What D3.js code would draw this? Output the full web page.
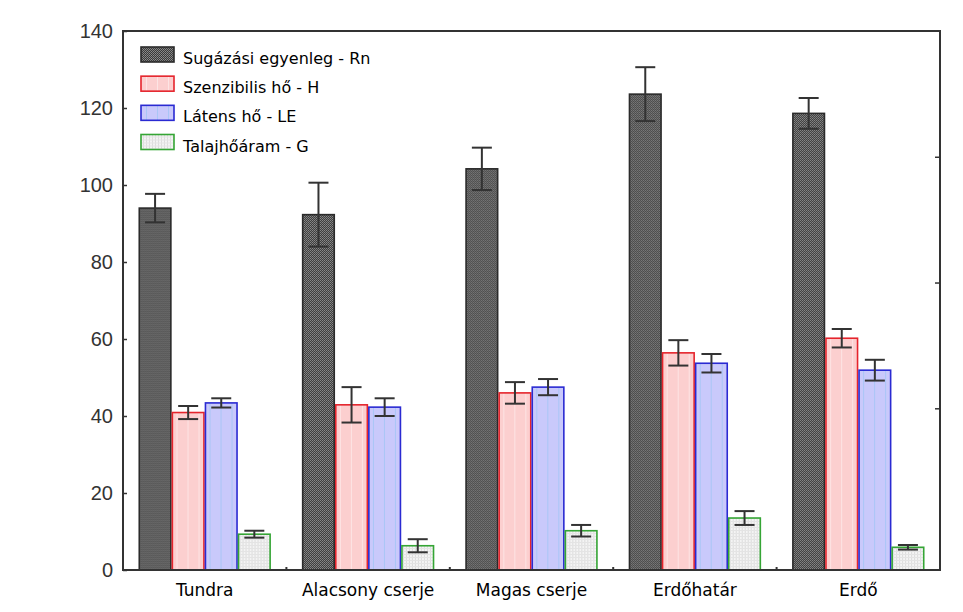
<!DOCTYPE html>
<html>
<head>
<meta charset="utf-8">
<script src="https://cdn.jsdelivr.net/npm/d3@7"></script>
<style>
  html, body { margin: 0; padding: 0; background: #fff; }
  svg { display: block; }
</style>
</head>
<body>
<svg id="chart" width="963" height="612"></svg>
<script>
// ---- data ----
const categories = ["Tundra", "Alacsony cserje", "Magas cserje", "Erdőhatár", "Erdő"];
const seriesNames = ["Sugázási egyenleg - Rn", "Szenzibilis hő - H", "Látens hő - LE", "Talajhőáram - G"];
const seriesKeys = ["Rn", "H", "LE", "G"];
const valuesRn = [94.0, 92.3, 104.2, 123.6, 118.6];
const valuesH  = [40.9, 42.9, 46.0, 56.4, 60.2];
const valuesLE = [43.4, 42.3, 47.5, 53.7, 51.9];
const valuesG  = [9.3, 6.3, 10.2, 13.5, 5.9];
const errRn = [3.7, 8.3, 5.5, 7.0, 4.0];
const errH  = [1.7, 4.6, 2.8, 3.3, 2.4];
const errLE = [1.2, 2.3, 2.1, 2.4, 2.7];
const errG  = [0.9, 1.7, 1.5, 1.8, 0.6];
const yTicks = [0, 20, 40, 60, 80, 100, 120, 140];
const rightTicks = [1, 2, 3];

const values = { Rn: valuesRn, H: valuesH, LE: valuesLE, G: valuesG };
const errors = { Rn: errRn, H: errH, LE: errLE, G: errG };

// ---- layout ----
const svg = d3.select("#chart");
const mLeft = 123, mRight = 940, mTop = 31, mBottom = 570;

const x = d3.scaleBand().domain(categories).range([mLeft, mRight])
  .paddingInner(0.19).paddingOuter(0.095);
const xs = d3.scaleBand().domain(seriesKeys).range([0, x.bandwidth()]);
const y = d3.scaleLinear().domain([0, 140]).range([mBottom, mTop]);
const yRight = d3.scaleLinear().domain([-2 / 7, 4]).range([mBottom, mTop]);

// ---- patterns ----
const defs = svg.append("defs");
const pRn = defs.append("pattern").attr("id", "pRn").attr("patternUnits", "userSpaceOnUse")
  .attr("width", 2).attr("height", 2);
pRn.append("rect").attr("width", 2).attr("height", 2).attr("fill", "#3a3a3a");
pRn.append("rect").attr("x", 0).attr("y", 0).attr("width", 1).attr("height", 1).attr("fill", "#8e8e8e");
pRn.append("rect").attr("x", 1).attr("y", 1).attr("width", 1).attr("height", 1).attr("fill", "#7e7e7e");

const pH = defs.append("pattern").attr("id", "pH").attr("patternUnits", "userSpaceOnUse")
  .attr("width", 11).attr("height", 4);
pH.append("rect").attr("width", 11).attr("height", 4).attr("fill", "#fccfcf");
pH.append("rect").attr("x", 5).attr("width", 1).attr("height", 4).attr("fill", "#fde4e4");

const pLE = defs.append("pattern").attr("id", "pLE").attr("patternUnits", "userSpaceOnUse")
  .attr("width", 11).attr("height", 4);
pLE.append("rect").attr("width", 11).attr("height", 4).attr("fill", "#c9c9fb");
pLE.append("rect").attr("x", 5).attr("width", 1).attr("height", 4).attr("fill", "#a9c6f6");

const pG = defs.append("pattern").attr("id", "pG").attr("patternUnits", "userSpaceOnUse")
  .attr("width", 3).attr("height", 3);
pG.append("rect").attr("width", 3).attr("height", 3).attr("fill", "#f4f4f4");
pG.append("rect").attr("x", 2).attr("width", 1).attr("height", 3).attr("fill", "#dcdcdc");
pG.append("rect").attr("y", 2).attr("width", 3).attr("height", 1).attr("fill", "#e4e4e4");

const fills = { Rn: "url(#pRn)", H: "url(#pH)", LE: "url(#pLE)", G: "url(#pG)" };
const strokes = { Rn: "#2a2a2a", H: "#e5242c", LE: "#2a2ad2", G: "#35a535" };

// ---- bars ----
const groups = svg.append("g").selectAll("g").data(categories).join("g")
  .attr("transform", d => `translate(${x(d)},0)`);

seriesKeys.forEach(k => {
  groups.append("rect")
    .attr("x", () => xs(k) + 0.75)
    .attr("y", (d, i) => y(values[k][i]))
    .attr("width", xs.bandwidth() - 1.5)
    .attr("height", (d, i) => y(0) - y(values[k][i]))
    .attr("fill", fills[k])
    .attr("stroke", strokes[k])
    .attr("stroke-width", 1.6);
});

// ---- error bars ----
const capW = 20;
seriesKeys.forEach(k => {
  const cx = xs(k) + xs.bandwidth() / 2;
  const eb = groups.append("g").attr("stroke", "#333").attr("stroke-width", 2).attr("fill", "none");
  eb.append("line")
    .attr("x1", cx).attr("x2", cx)
    .attr("y1", (d, i) => y(values[k][i] + errors[k][i]))
    .attr("y2", (d, i) => y(values[k][i] - errors[k][i]));
  eb.append("line")
    .attr("x1", cx - capW / 2).attr("x2", cx + capW / 2)
    .attr("y1", (d, i) => y(values[k][i] + errors[k][i]))
    .attr("y2", (d, i) => y(values[k][i] + errors[k][i]));
  eb.append("line")
    .attr("x1", cx - capW / 2).attr("x2", cx + capW / 2)
    .attr("y1", (d, i) => y(values[k][i] - errors[k][i]))
    .attr("y2", (d, i) => y(values[k][i] - errors[k][i]));
});

// ---- frame ----
svg.append("rect").attr("x", mLeft).attr("y", mTop)
  .attr("width", mRight - mLeft).attr("height", mBottom - mTop)
  .attr("fill", "none").attr("stroke", "#333").attr("stroke-width", 2);

// ---- left axis ----
const yAxis = d3.axisLeft(y).tickValues(yTicks).tickSize(-4).tickPadding(14).tickFormat(d3.format("d"));
const gy = svg.append("g").attr("transform", `translate(${mLeft},0)`).call(yAxis);
gy.select(".domain").remove();
gy.selectAll(".tick line").attr("stroke", "#333").attr("stroke-width", 1.5);
gy.selectAll(".tick text")
  .attr("font-family", "'Liberation Sans', Arial, sans-serif")
  .attr("font-size", 20).attr("fill", "#333").attr("x", -10);

// ---- right axis ticks ----
const yAxisR = d3.axisRight(yRight).tickValues(rightTicks).tickSize(-5).tickFormat("");
const gr = svg.append("g").attr("transform", `translate(${mRight},0)`).call(yAxisR);
gr.select(".domain").remove();
gr.selectAll(".tick line").attr("stroke", "#333").attr("stroke-width", 1.5);

// ---- bottom axis ----
const xAxis = d3.axisBottom(x).tickSize(0).tickPadding(14);
const gx = svg.append("g").attr("transform", `translate(0,${mBottom})`).call(xAxis);
gx.select(".domain").remove();
gx.selectAll(".tick text")
  .attr("font-family", "'DejaVu Sans', Verdana, sans-serif")
  .attr("font-size", 17).attr("fill", "#000");

// small ticks between groups
const between = categories.slice(0, -1).map((c) => x(c) + x.bandwidth() + (x.step() - x.bandwidth()) / 2);
svg.append("g").selectAll("line").data(between).join("line")
  .attr("x1", d => d).attr("x2", d => d)
  .attr("y1", mBottom).attr("y2", mBottom - 3)
  .attr("stroke", "#333").attr("stroke-width", 2);

// ---- legend ----
const legendY = d3.scaleBand().domain(seriesKeys).range([47, 152]).paddingInner(0.4);
const lg = svg.append("g").selectAll("g").data(seriesKeys).join("g")
  .attr("transform", k => `translate(141,${legendY(k)})`);
lg.append("rect").attr("width", 33).attr("height", 15)
  .attr("fill", k => fills[k]).attr("stroke", k => strokes[k]).attr("stroke-width", 1.6);
lg.append("text").attr("x", 42).attr("y", 17)
  .attr("font-family", "'DejaVu Sans', Verdana, sans-serif")
  .attr("font-size", 16).attr("fill", "#000")
  .text((k, i) => seriesNames[i]);
</script>
</body>
</html>
